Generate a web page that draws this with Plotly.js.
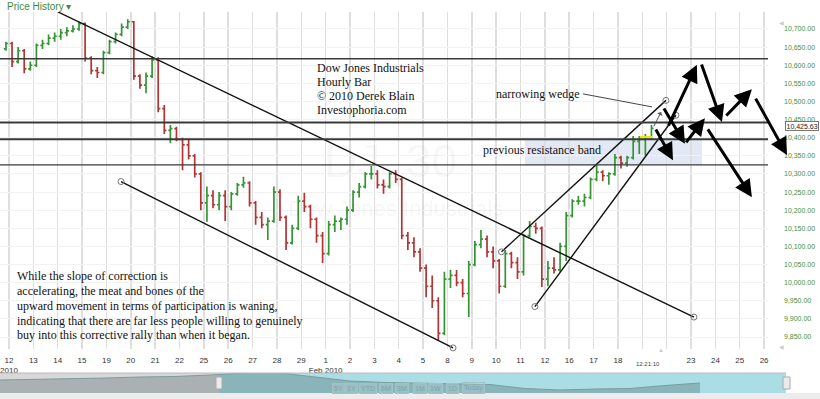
<!DOCTYPE html>
<html><head><meta charset="utf-8">
<script src="https://cdn.plot.ly/plotly-3.0.1.min.js"></script>
<style>html,body{margin:0;padding:0;background:#fff}#chart{width:820px;height:399px}</style>
</head><body><div id="chart"></div>
<script>
// ---- data ----
const dayLabels = ['12<br>2010','13','14','15','19','20','21','22','25','26','27','28','29','1<br>Feb 2010','2','3','4','5','8','9','10','11','12','16','17','18','','','23','24','25','26'];
const firstOpen = 10645;
const barHigh = [10665,
 10665,10650,10645,10610, 10660,10670,10685,10690, 10700,10705,10710,10720, 10718,10625,10595,10640,
 10670,10690,10715,10727, 10722,10575,10580,10625, 10622,10490,10435,10430, 10400,10395,10355,10305,
 10265,10255,10250,10255, 10250,10275,10292,10280, 10225,10195,10180,10265, 10258,10185,10160,10240,
 10248,10215,10180,10140, 10170,10185,10180,10210, 10255,10275,10305,10322, 10310,10285,10305,10310,
 10290,10140,10125,10095, 10050,10020,9960,10030, 10035,10035,10010,10060, 10115,10145,10130,10100,
 10065,10090,10085,10070, 10135,10170,10165,10155, 10060,10070,10110,10195, 10230,10240,10245,10290,
 10325,10310,10305,10355, 10350,10350,10405,10405, 10410,10435];
const barLow = [10640,
 10595,10605,10578,10585, 10595,10645,10655,10665, 10670,10680,10690,10695, 10610,10575,10565,10575,
 10630,10660,10680,10700, 10560,10535,10523,10565, 10470,10410,10385,10390, 10310,10340,10290,10200,
 10168,10205,10200,10170, 10200,10240,10262,10210, 10160,10150,10118,10165, 10170,10090,10105,10145,
 10195,10150,10110,10054, 10075,10140,10145,10160, 10195,10235,10260,10285, 10260,10245,10260,10275,
 10120,10090,10070,10030, 9960,9930,9842,9855, 9985,9990,9960,9905, 10045,10095,10070,10040,
 9970,9985,10040,10010, 10020,10125,10135,9988, 9990,10025,10030,10060, 10180,10215,10210,10230,
 10280,10280,10270,10295, 10315,10320,10340,10355, 10350,10395];
const barClose = [10660,
 10610,10640,10590,10600, 10655,10660,10675,10680, 10690,10695,10700,10715, 10620,10585,10580,10635,
 10665,10685,10705,10720, 10570,10545,10570,10615, 10480,10420,10425,10395, 10380,10350,10300,10220,
 10240,10215,10240,10210, 10245,10270,10275,10220, 10180,10160,10170,10250, 10180,10110,10150,10225,
 10210,10175,10130,10080, 10160,10170,10175,10200, 10250,10265,10300,10300, 10270,10265,10300,10285,
 10130,10110,10085,10040, 9990,9950,9860,10010, 10020,10000,9970,10050, 10105,10120,10085,10060,
 9990,10080,10055,10030, 10130,10155,10150,10010, 10040,10035,10100,10185, 10225,10225,10235,10285,
 10305,10295,10300,10345, 10330,10345,10390,10395, 10400,10425.63];
const lastPrice = 10425.63;
const hLevels = [10618, 10442, 10396, 10325];
const hWidths = [1.5, 2, 2, 1.2];
const bandX = [21.18, 28.45];
const bandY = [10325, 10396];
const downTrendX = [2.01, 28.12],  downTrendY = [10747, 9905];
const lowerChanX = [4.60, 18.23],  lowerChanY = [10279, 9820];
const wedgeUpX   = [20.22, 26.97], wedgeUpY   = [10085, 10503];
const wedgeLoX   = [21.59, 27.38], wedgeLoY   = [9934, 10462];
const pointerX   = [23.56, 26.40], pointerY   = [10521, 10485];
const markX = [25.9, 26.4], markY = 10402;
const thinArrowTail = [26.44, 10427], thinArrowHead = [26.77, 10471];
const arrowTailX = [26.85, 27.75, 26.52, 27.05, 28.41, 29.39, 30.62, 28.65];
const arrowTailY = [10485, 10383, 10427, 10430, 10606, 10457, 10512, 10427];
const arrowHeadX = [27.75, 28.57, 27.26, 28.24, 29.27, 30.50, 31.94, 30.50];
const arrowHeadY = [10383, 10454, 10338, 10601, 10443, 10534, 10352, 10236];
const navValues = [13,13.5,14.5,15,16,16.5,18,20,20,16,12,10.5,10,9,8.5,4.5,3,4,4.5,7.5,10];
const navButtons = ['5Y','1Y','YTD','6M','3M','1M','1W','1D','Today'];
const noteLines = ['While the slope of correction is','accelerating, the meat and bones of the','upward movement in terms of participation is waning,','indicating that there are far less people willing to genuinely','buy into this corrective rally than when it began.'];
const titleLines = ['Dow Jones Industrials','Hourly Bar','© 2010 Derek Blain','Investophoria.com'];

// ---- derived ----
const barX = barClose.map((_, i) => { const k = i + 3; return Math.floor(k/4) - 1 + ((k%4)+0.5)/4; });
const barOpen = [firstOpen].concat(barClose.slice(0, -1));
const navX = navValues.map((_, i) => i);

// pixel -> paper helpers (layout geometry)
const PW = 786, PB = 393, PH = 381;
const px = x => x / PW;
const py = y => (PB - y) / PH;

const serif = 'Liberation Serif, Times New Roman, serif';
const sans = 'Liberation Sans, Arial, sans-serif';

const traces = [
  {type:'ohlc', x:barX, open:barOpen, high:barHigh, low:barLow, close:barClose,
   increasing:{line:{color:'#359535', width:1.7}}, decreasing:{line:{color:'#b23535', width:1.7}},
   tickwidth:0.35, hoverinfo:'skip', xaxis:'x', yaxis:'y'},
];
function tl(xs, ys, opts) {
  traces.push(Object.assign({type:'scatter', mode:'lines+markers', x:xs, y:ys, cliponaxis:false,
    line:{color:'#111', width:1.4}, marker:{symbol:'circle-open', size:6, color:'#777', line:{width:1}},
    hoverinfo:'skip', xaxis:'x', yaxis:'y'}, opts||{}));
}
tl(downTrendX, downTrendY);
tl(lowerChanX, lowerChanY);
tl(wedgeUpX, wedgeUpY);
tl(wedgeLoX, wedgeLoY);
tl(pointerX, pointerY, {mode:'lines', line:{color:'#444', width:1}});
traces.push({type:'scatter', mode:'lines', x:markX, y:[markY, markY], line:{color:'#f2e400', width:2}, hoverinfo:'skip', xaxis:'x', yaxis:'y'});
traces.push({type:'scatter', mode:'lines', x:navX, y:navValues, fill:'tozeroy', fillcolor:'rgba(60,85,90,0.3)',
  line:{color:'#7a9ca1', width:1}, hoverinfo:'skip', xaxis:'x2', yaxis:'y2'});

const shapes = [
  {type:'rect', xref:'x', yref:'y', x0:bandX[0], x1:bandX[1], y0:bandY[0], y1:bandY[1], fillcolor:'#e3e8f5', line:{width:0}, layer:'below'},
  {type:'rect', xref:'paper', yref:'paper', x0:0, x1:px(219), y0:0, y1:py(373), fillcolor:'#d8d8d8', line:{width:0}, layer:'below'},
  {type:'rect', xref:'paper', yref:'paper', x0:px(219), x1:1, y0:0, y1:py(373), fillcolor:'#abdde4', line:{width:0}, layer:'below'},
  {type:'line', xref:'paper', yref:'paper', x0:0, x1:1, y0:py(373), y1:py(373), line:{color:'#bbbbbb', width:1}},
  {type:'rect', xref:'paper', yref:'paper', x0:0, x1:820/PW, y0:py(399), y1:0, fillcolor:'#ececec', line:{width:0}},
  {type:'rect', xref:'paper', yref:'paper', x0:px(216), x1:px(222), y0:py(389), y1:py(377), fillcolor:'#ebebeb', line:{color:'#aaaaaa', width:1}},
  {type:'rect', xref:'paper', yref:'paper', x0:px(783), x1:px(790), y0:py(389), y1:py(377), fillcolor:'#ebebeb', line:{color:'#aaaaaa', width:1}},
];
hLevels.forEach((v, i) => shapes.push({type:'line', xref:'x domain', yref:'y', x0:0, x1:1, y0:v, y1:v, line:{color:'#3a3a3a', width:hWidths[i]}}));

function txt(x, y, text, font, extra) {
  return Object.assign({xref:'paper', yref:'paper', x:px(x), y:py(y), xanchor:'center', yanchor:'middle', text:text, showarrow:false, font:font}, extra||{});
}
const annotations = [
  txt(390, 161, 'DJ_30', {family:sans, size:46, color:'rgba(0,0,0,0.055)'}),
  txt(395, 208, 'Dow Jones Industrials', {family:sans, size:22, color:'rgba(0,0,0,0.055)'}),
  txt(5, 6, 'Price History ▾', {family:sans, size:10, color:'#3f8a3f'}, {xanchor:'left'}),
  txt(494, 94, 'narrowing wedge', {family:serif, size:12, color:'#111'}, {xanchor:'left'}),
  txt(481, 150, 'previous resistance band', {family:serif, size:12, color:'#111'}, {xanchor:'left'}),
  txt(802, 126.5, lastPrice.toLocaleString('en-US',{minimumFractionDigits:2}), {family:sans, size:7, color:'#222'},
   {bordercolor:'#777', borderwidth:1, borderpad:0.5, bgcolor:'#fff'}),
  txt(648, 364, '12:21:10', {family:sans, size:6, color:'#444'}),
  txt(661, 350, '▲', {family:sans, size:6, color:'#cccccc'}),
  txt(781, 23, '◀', {family:sans, size:6, color:'#cccccc'}),
  txt(781, 347, '◀', {family:sans, size:6, color:'#cccccc'}),
  {xref:'x', yref:'y', x:thinArrowHead[0], y:thinArrowHead[1], ax:thinArrowTail[0], ay:thinArrowTail[1], axref:'x', ayref:'y',
   text:'', showarrow:true, arrowhead:1, arrowsize:1, arrowwidth:1, arrowcolor:'#555', standoff:0, startstandoff:0},
];
const titleY = [68, 82, 96.5, 110.5];
titleLines.forEach((t, i) => annotations.push(txt(315, titleY[i], t, {family:serif, size:12, color:'#111'}, {xanchor:'left'})));
const noteY = [276, 291, 305.5, 320.5, 335];
noteLines.forEach((t, i) => annotations.push(txt(15, noteY[i], t, {family:serif, size:12, color:'#111'}, {xanchor:'left'})));
arrowTailX.forEach((_, i) => annotations.push({xref:'x', yref:'y', axref:'x', ayref:'y', x:arrowHeadX[i], y:arrowHeadY[i], ax:arrowTailX[i], ay:arrowTailY[i],
  text:'', showarrow:true, arrowhead:2, arrowsize:1.15, arrowwidth:3, arrowcolor:'#000', standoff:0, startstandoff:0}));
const btnCx = [338, 351.5, 367.5, 385.5, 402, 419.5, 436, 452, 473.5];
navButtons.forEach((b, i) => annotations.push(txt(btnCx[i], 388, b, {family:sans, size:7, color:'#7fa3a8'},
  {bordercolor:'#9fc3c8', borderwidth:1, borderpad:1, bgcolor:'rgba(255,255,255,0.15)'})));

const layout = {
  width:820, height:399, margin:{l:0, r:34, t:12, b:6},
  paper_bgcolor:'#fff', plot_bgcolor:'rgba(0,0,0,0)', showlegend:false, hovermode:false, dragmode:false,
  xaxis:{domain:[0, 768/PW], range:[-0.3695, 31.16], tickvals:dayLabels.map((_, i) => i), ticktext:dayLabels,
    showgrid:true, gridcolor:'#dedede', gridwidth:1.5, zeroline:false, showline:false, ticks:'',
    tickfont:{family:sans, size:8, color:'#333'}, ticklabelstandoff:5, rangeslider:{visible:false}, fixedrange:true},
  yaxis:{domain:[(PB-349)/PH, 1], range:[9816.9, 10746.9], side:'right', dtick:50, tick0:0, tickformat:',.2f',
    showgrid:true, gridcolor:'#f2f2f2', gridwidth:1, zeroline:false, showline:false, ticks:'',
    tickfont:{family:sans, size:7, color:'#3f8f3f'}, ticklabelstandoff:15, fixedrange:true},
  xaxis2:{domain:[0,1], anchor:'y2', range:[0, PW/35], visible:false, fixedrange:true},
  yaxis2:{domain:[0, 20/PH], anchor:'x2', range:[0,20], visible:false, fixedrange:true},
  shapes:shapes, annotations:annotations
};
Plotly.newPlot('chart', traces, layout, {staticPlot:true, displayModeBar:false});
</script></body></html>
